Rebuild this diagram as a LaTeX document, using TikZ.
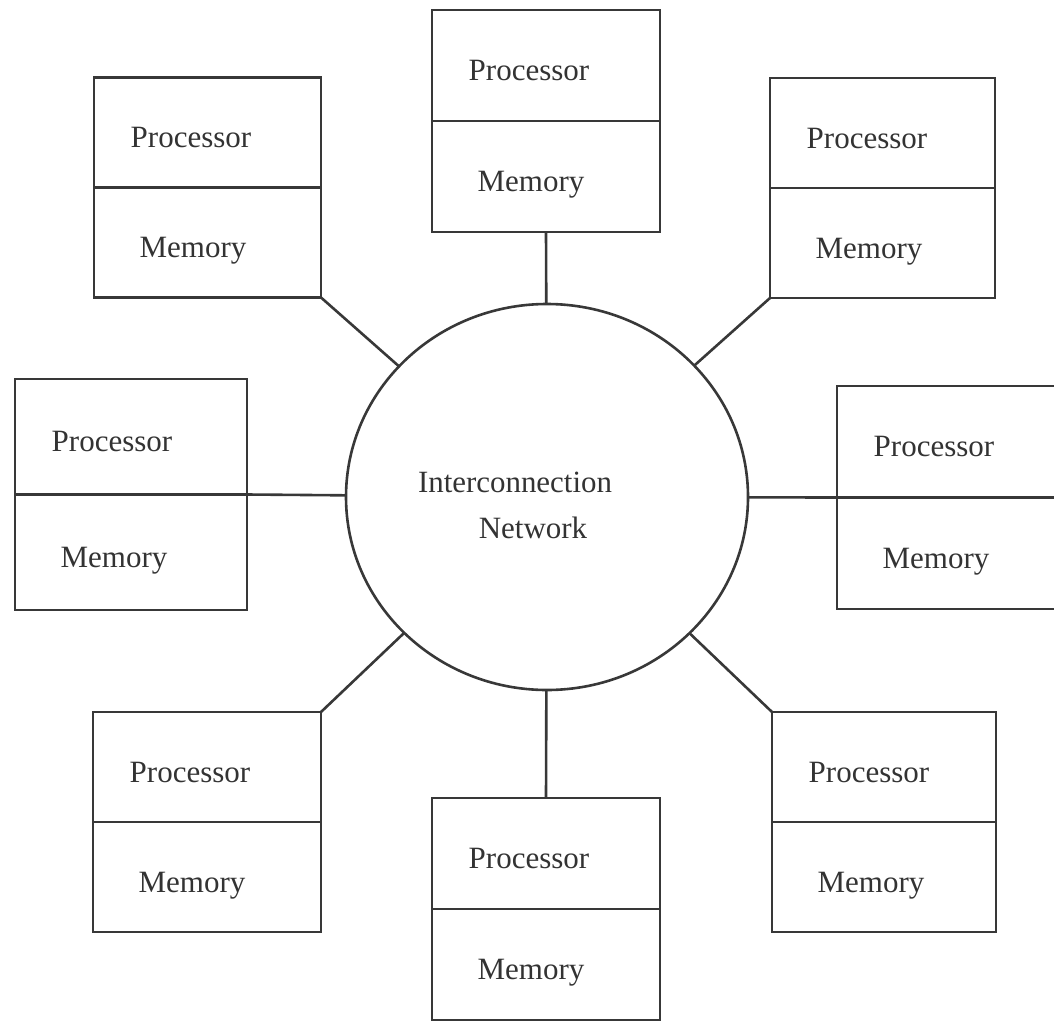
\documentclass[tikz,border=0pt]{standalone}
\usepackage{fontspec}
\IfFontExistsTF{LiberationSerif-Regular.ttf}
  {\setmainfont{LiberationSerif-Regular.ttf}}
  {\setmainfont{Liberation Serif}}
\usetikzlibrary{shapes.geometric}

\tikzset{
  edge/.style={draw=black!78, line width=2.6pt},
  unitbox/.style={edge, rectangle, inner sep=0pt, outer sep=0pt},
  lbl/.style={anchor=base, inner sep=0pt, text=black!80,
              font=\fontsize{31pt}{37pt}\selectfont},
  netnode/.style={edge, ellipse, inner sep=0pt, outer sep=0pt,
                  minimum width=402pt, minimum height=386pt}
}

% processor/memory unit: name, centre x, centre y, width, height
\newcommand\pmunit[5]{%
  \node[unitbox, minimum width=#4pt, minimum height=#5pt] (#1) at (#2,#3) {};
  \draw[edge] (#1.west) -- (#1.east);
  \pgfmathsetmacro\ulx{#2-#4/2}
  \pgfmathsetmacro\upy{#3-#5/4+15}
  \pgfmathsetmacro\umy{#3+#5/4+15}
  \node[lbl] (#1-p) at (\ulx+97,\upy) {Processor};
  \node[lbl] (#1-m) at (\ulx+99,\umy) {Memory};
}

\begin{document}
\begin{tikzpicture}[x=1pt, y=-1pt]
  \useasboundingbox (0,0) rectangle (1054,1022);

  % central interconnection network
  \node[netnode] (net) at (547,497) {};
  \node[lbl] (net-a) at (515,492) {\resizebox{194pt}{!}{Interconnection}};
  \node[lbl] (net-b) at (533,538) {Network};

  % the eight processor/memory units
  \pmunit{t}{546}{121}{228}{222}
  \pmunit{tl}{207.5}{187.5}{227}{220}
  \pmunit{tr}{882.5}{188}{225}{220}
  \pmunit{l}{131}{494.5}{232}{231}
  \pmunit{r}{951}{497.5}{228}{223}
  \pmunit{bl}{207}{822}{228}{220}
  \pmunit{b}{546}{909}{228}{222}
  \pmunit{br}{884}{822}{224}{220}

  % links to the network
  \draw[edge] (t.south) -- (net);
  \draw[edge] (tl.south east) -- (net);
  \draw[edge] (tr.south west) -- (net);
  \draw[edge] (l.east) -- (net);
  \draw[edge] (r.west) -- (net);
  \draw[edge] (bl.north east) -- (net);
  \draw[edge] (b.north) -- (net);
  \draw[edge] (br.north west) -- (net);
\end{tikzpicture}
\end{document}
